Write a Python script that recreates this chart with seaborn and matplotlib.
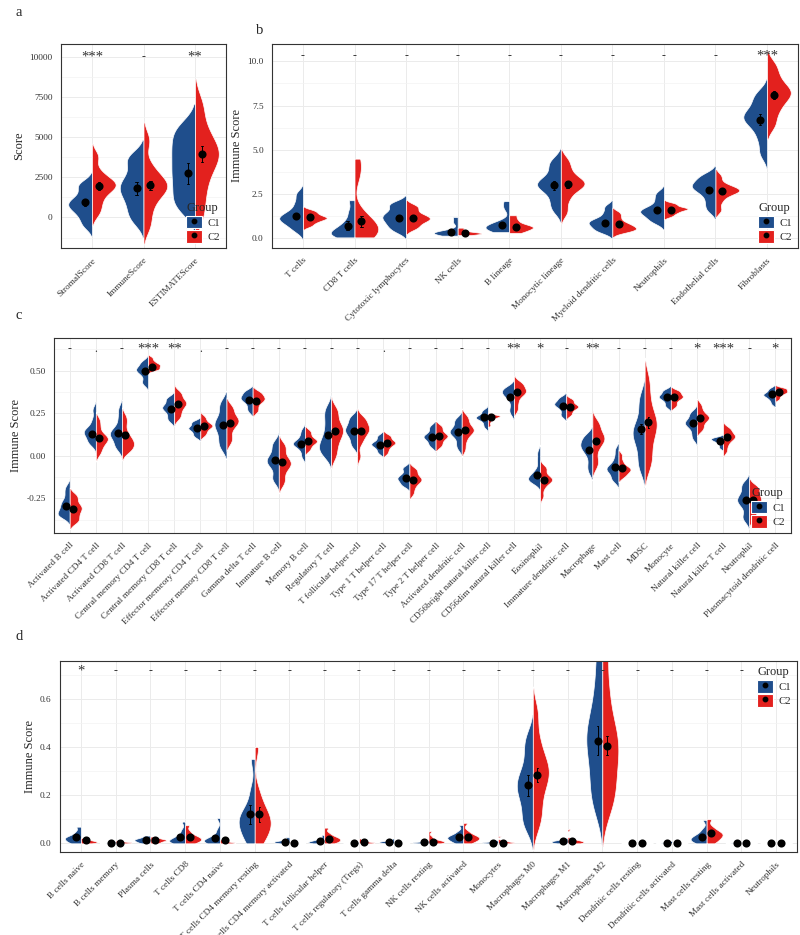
import matplotlib
matplotlib.use("Agg")
import matplotlib.pyplot as plt
import pandas as pd
import seaborn as sns
from matplotlib.patches import Patch
from matplotlib.lines import Line2D
from matplotlib.legend_handler import HandlerTuple
from matplotlib.ticker import AutoMinorLocator, FormatStrFormatter

BLUE = "#1F4E8C"
RED = "#E3211E"

# ---------------- panel a : ESTIMATE ----------------
a_cats = ["StromalScore", "ImmuneScore", "ESTIMATEScore"]
a_c1 = [[-500, 0, 400, 650, 850, 1050, 1350, 1850, 2150],
        [-200, 400, 1000, 1500, 1850, 2200, 2700, 3500, 3800],
        [500, 1100, 1800, 2500, 3100, 3800, 4400, 5100, 5700]]
a_c2 = [[300, 900, 1450, 1800, 2000, 2150, 2350, 2850, 3800],
        [-500, 500, 1300, 1700, 1950, 2150, 2500, 3200, 4800],
        [100, 1400, 2500, 3300, 3800, 4200, 4700, 5600, 7000]]
a_m1 = [950, 1820, 2750]
a_e1 = [220, 400, 650]
a_m2 = [1950, 2000, 3950]
a_e2 = [230, 300, 500]
a_sig = ["***", "-", "**"]
a_trim = []

# ---------------- panel b : MCP-counter ----------------
b_cats = ["T cells", "CD8 T cells", "Cytotoxic lymphocytes", "NK cells", "B lineage",
          "Monocytic lineage", "Myeloid dendritic cells", "Neutrophils",
          "Endothelial cells", "Fibroblasts"]
b_c1 = [[0.45, 0.75, 0.95, 1.1, 1.2, 1.35, 1.6, 2.0, 2.5],
        [0.05, 0.15, 0.25, 0.35, 0.5, 0.7, 1.0, 1.5, 2.15],
        [0.4, 0.65, 0.85, 1.05, 1.2, 1.35, 1.55, 1.85, 2.0],
        [0.15, 0.22, 0.27, 0.3, 0.33, 0.37, 0.45, 0.9, 1.2],
        [0.35, 0.45, 0.55, 0.62, 0.7, 0.8, 0.95, 1.7, 2.1],
        [1.6, 2.1, 2.6, 2.9, 3.05, 3.2, 3.5, 4.0, 4.4],
        [0.35, 0.5, 0.65, 0.8, 0.9, 1.0, 1.15, 1.45, 1.8],
        [0.9, 1.1, 1.3, 1.45, 1.55, 1.65, 1.85, 2.2, 2.55],
        [1.6, 2.0, 2.4, 2.7, 2.85, 3.0, 3.15, 3.4, 3.6],
        [4.8, 5.6, 6.2, 6.6, 6.8, 7.0, 7.3, 7.8, 8.2]]
b_c2 = [[0.7, 0.88, 1.0, 1.1, 1.15, 1.22, 1.32, 1.45, 1.58],
        [0.05, 0.2, 0.35, 0.5, 0.7, 0.95, 1.4, 3.6, 4.5],
        [0.55, 0.75, 0.95, 1.05, 1.15, 1.25, 1.4, 1.65, 1.85],
        [0.18, 0.22, 0.25, 0.28, 0.3, 0.33, 0.38, 0.48, 0.6],
        [0.3, 0.42, 0.52, 0.6, 0.65, 0.72, 0.85, 1.05, 1.3],
        [1.5, 2.2, 2.7, 2.95, 3.1, 3.2, 3.45, 3.9, 4.4],
        [0.35, 0.45, 0.52, 0.6, 0.7, 0.8, 0.95, 1.2, 1.45],
        [1.25, 1.4, 1.5, 1.6, 1.65, 1.7, 1.75, 1.88, 1.98],
        [1.6, 2.1, 2.45, 2.6, 2.7, 2.75, 2.85, 3.05, 3.5],
        [6.4, 7.1, 7.6, 7.95, 8.2, 8.4, 8.7, 9.2, 9.8]]
b_m1 = [1.27, 0.7, 1.12, 0.33, 0.75, 3.0, 0.85, 1.6, 2.75, 6.7]
b_e1 = [0.12, 0.25, 0.12, 0.05, 0.1, 0.25, 0.12, 0.1, 0.15, 0.3]
b_m2 = [1.2, 0.95, 1.15, 0.3, 0.65, 3.05, 0.8, 1.6, 2.65, 8.1]
b_e2 = [0.08, 0.3, 0.12, 0.04, 0.1, 0.2, 0.1, 0.06, 0.12, 0.25]
b_sig = ["-"] * 9 + ["***"]
b_trim = ["CD8 T cells", "NK cells", "B lineage"]

# ---------------- panel c : ssGSEA ----------------
c_cats = ["Activated B cell", "Activated CD4 T cell", "Activated CD8 T cell",
          "Central memory CD4 T cell", "Central memory CD8 T cell",
          "Effector memeory CD4 T cell", "Effector memory CD8 T cell",
          "Gamma delta T cell", "Immature B cell", "Memory B cell",
          "Regulatory T cell", "T follicular helper cell", "Type 1 T helper cell",
          "Type 17 T helper cell", "Type 2 T helper cell", "Activated dendritic cell",
          "CD56bright natural killer cell", "CD56dim natural killer cell",
          "Eosinophil", "Immature dendritic cell", "Macrophage", "Mast cell", "MDSC",
          "Monocyte", "Natural killer cell", "Natural killer T cell", "Neutrophil",
          "Plasmacytoid dendritic cell"]
c_c1 = [[-0.355, -0.35, -0.34, -0.32, -0.30, -0.28, -0.26, -0.22, -0.185],
        [0.07, 0.085, 0.11, 0.13, 0.14, 0.15, 0.17, 0.21, 0.27],
        [0.045, 0.065, 0.1, 0.12, 0.13, 0.145, 0.17, 0.22, 0.275],
        [0.42, 0.44, 0.47, 0.49, 0.5, 0.51, 0.52, 0.54, 0.555],
        [0.205, 0.225, 0.25, 0.27, 0.28, 0.29, 0.305, 0.33, 0.34],
        [0.11, 0.125, 0.14, 0.155, 0.16, 0.168, 0.18, 0.195, 0.202],
        [0.045, 0.08, 0.12, 0.16, 0.18, 0.2, 0.23, 0.28, 0.315],
        [0.261, 0.285, 0.31, 0.325, 0.335, 0.345, 0.355, 0.372, 0.382],
        [-0.147, -0.12, -0.07, -0.045, -0.03, -0.015, 0.01, 0.05, 0.078],
        [-0.005, 0.03, 0.055, 0.065, 0.072, 0.08, 0.095, 0.12, 0.15],
        [0.0, 0.025, 0.05, 0.07, 0.1, 0.14, 0.19, 0.24, 0.28],
        [0.055, 0.085, 0.115, 0.135, 0.15, 0.165, 0.185, 0.21, 0.232],
        [0.015, 0.032, 0.05, 0.06, 0.068, 0.075, 0.085, 0.105, 0.12],
        [-0.178, -0.165, -0.15, -0.138, -0.13, -0.12, -0.105, -0.08, -0.067],
        [0.054, 0.072, 0.09, 0.105, 0.112, 0.12, 0.135, 0.158, 0.176],
        [0.044, 0.075, 0.11, 0.13, 0.14, 0.15, 0.17, 0.2, 0.216],
        [0.169, 0.19, 0.21, 0.218, 0.224, 0.23, 0.238, 0.255, 0.268],
        [0.25, 0.28, 0.32, 0.345, 0.36, 0.37, 0.38, 0.395, 0.403],
        [-0.156, -0.15, -0.14, -0.13, -0.12, -0.105, -0.08, -0.03, 0.019],
        [0.231, 0.25, 0.275, 0.29, 0.3, 0.307, 0.315, 0.333, 0.343],
        [-0.092, -0.05, 0.0, 0.03, 0.05, 0.063, 0.08, 0.105, 0.12],
        [-0.145, -0.13, -0.1, -0.085, -0.075, -0.065, -0.045, -0.01, 0.035],
        [-0.078, -0.02, 0.05, 0.1, 0.13, 0.16, 0.2, 0.28, 0.35],
        [0.287, 0.305, 0.325, 0.337, 0.345, 0.352, 0.362, 0.378, 0.386],
        [0.1, 0.13, 0.16, 0.18, 0.19, 0.2, 0.215, 0.24, 0.257],
        [0.045, 0.06, 0.075, 0.085, 0.09, 0.095, 0.1, 0.105, 0.108],
        [-0.375, -0.35, -0.3, -0.275, -0.26, -0.245, -0.22, -0.18, -0.163],
        [0.305, 0.325, 0.34, 0.35, 0.357, 0.363, 0.37, 0.385, 0.396]]
c_c2 = [[-0.39, -0.375, -0.35, -0.33, -0.31, -0.30, -0.28, -0.25, -0.23],
        [0.013, 0.045, 0.07, 0.09, 0.10, 0.11, 0.13, 0.17, 0.21],
        [0.025, 0.04, 0.06, 0.075, 0.09, 0.11, 0.14, 0.19, 0.23],
        [0.504, 0.507, 0.515, 0.525, 0.53, 0.537, 0.545, 0.558, 0.576],
        [0.22, 0.245, 0.27, 0.29, 0.305, 0.315, 0.33, 0.355, 0.375],
        [0.12, 0.138, 0.155, 0.168, 0.175, 0.182, 0.192, 0.21, 0.23],
        [0.08, 0.115, 0.16, 0.185, 0.2, 0.215, 0.23, 0.265, 0.29],
        [0.258, 0.28, 0.305, 0.32, 0.33, 0.34, 0.35, 0.365, 0.377],
        [-0.165, -0.13, -0.085, -0.06, -0.045, -0.03, -0.005, 0.04, 0.065],
        [0.032, 0.052, 0.07, 0.08, 0.088, 0.095, 0.11, 0.13, 0.148],
        [-0.005, 0.045, 0.09, 0.12, 0.145, 0.165, 0.19, 0.24, 0.275],
        [-0.002, 0.075, 0.11, 0.135, 0.15, 0.165, 0.18, 0.21, 0.222],
        [0.015, 0.037, 0.055, 0.068, 0.075, 0.082, 0.092, 0.11, 0.12],
        [-0.222, -0.19, -0.165, -0.15, -0.14, -0.13, -0.115, -0.09, -0.078],
        [0.054, 0.072, 0.092, 0.108, 0.115, 0.123, 0.138, 0.16, 0.176],
        [0.038, 0.085, 0.12, 0.14, 0.15, 0.16, 0.18, 0.21, 0.232],
        [0.18, 0.2, 0.215, 0.222, 0.228, 0.232, 0.236, 0.238, 0.235],
        [0.27, 0.31, 0.345, 0.365, 0.375, 0.385, 0.4, 0.42, 0.43],
        [-0.237, -0.19, -0.16, -0.148, -0.14, -0.13, -0.115, -0.08, -0.068],
        [0.238, 0.255, 0.272, 0.282, 0.288, 0.295, 0.305, 0.322, 0.332],
        [-0.06, -0.02, 0.04, 0.075, 0.095, 0.11, 0.13, 0.17, 0.198],
        [-0.125, -0.11, -0.095, -0.085, -0.078, -0.07, -0.055, -0.03, 0.005],
        [-0.06, 0.0, 0.08, 0.14, 0.18, 0.21, 0.26, 0.35, 0.45],
        [0.288, 0.305, 0.325, 0.337, 0.345, 0.352, 0.362, 0.376, 0.382],
        [0.15, 0.17, 0.195, 0.212, 0.222, 0.232, 0.245, 0.27, 0.3],
        [0.027, 0.06, 0.085, 0.1, 0.11, 0.12, 0.13, 0.15, 0.163],
        [-0.365, -0.34, -0.3, -0.275, -0.26, -0.245, -0.22, -0.19, -0.185],
        [0.333, 0.35, 0.362, 0.37, 0.375, 0.38, 0.388, 0.396, 0.397]]
c_m1 = [-0.293, 0.13, 0.135, 0.495, 0.275, 0.16, 0.18, 0.325, -0.025, 0.07,
        0.12, 0.145, 0.06, -0.13, 0.11, 0.14, 0.225, 0.345, -0.115, 0.29,
        0.035, -0.065, 0.156, 0.345, 0.19, 0.085, -0.26, 0.36]
c_m2 = [-0.312, 0.105, 0.12, 0.52, 0.305, 0.175, 0.19, 0.32, -0.04, 0.085,
        0.145, 0.145, 0.075, -0.14, 0.115, 0.15, 0.225, 0.375, -0.14, 0.285,
        0.085, -0.075, 0.195, 0.345, 0.22, 0.11, -0.26, 0.375]
c_e1 = [0.01] * 20 + [0.018, 0.01, 0.03, 0.008, 0.012, 0.008, 0.01, 0.006]
c_e2 = [0.01] * 20 + [0.018, 0.01, 0.03, 0.008, 0.012, 0.008, 0.01, 0.006]
c_sig = ["-", ".", "-", "***", "**", ".", "-", "-", "-", "-", "-", "-", ".", "-",
         "-", "-", "-", "**", "*", "-", "**", "-", "-", "-", "*", "***", "-", "*"]
c_trim = []

# ---------------- panel d : CIBERSORT ----------------
d_cats = ["B cells naive", "B cells memory", "Plasma cells", "T cells CD8",
          "T cells CD4 naive", "T cells CD4 memory resting",
          "T cells CD4 memory activated", "T cells follicular helper",
          "T cells regulatory (Tregs)", "T cells gamma delta", "NK cells resting",
          "NK cells activated", "Monocytes", "Macrophages M0", "Macrophages M1",
          "Macrophages M2", "Dendritic cells resting", "Dendritic cells activated",
          "Mast cells resting", "Mast cells activated", "Neutrophils"]
d_c1 = [[0.0, 0.005, 0.012, 0.018, 0.022, 0.027, 0.034, 0.048, 0.069],
        [0, 0.0005, 0.001, 0.0015, 0.002, 0.0025, 0.003, 0.005, 0.008],
        [0, 0.004, 0.008, 0.011, 0.014, 0.017, 0.02, 0.025, 0.032],
        [0, 0.004, 0.008, 0.012, 0.017, 0.024, 0.035, 0.055, 0.09],
        [0, 0.003, 0.007, 0.011, 0.015, 0.02, 0.03, 0.055, 0.105],
        [0, 0.03, 0.06, 0.085, 0.1, 0.12, 0.15, 0.22, 0.35],
        [0, 0.002, 0.004, 0.006, 0.007, 0.009, 0.012, 0.017, 0.025],
        [0, 0.002, 0.004, 0.006, 0.008, 0.011, 0.015, 0.022, 0.035],
        [0, 0, 0, 0.0005, 0.001, 0.0015, 0.002, 0.003, 0.005],
        [0, 0.002, 0.004, 0.005, 0.006, 0.007, 0.009, 0.012, 0.02],
        [0, 0.001, 0.002, 0.003, 0.004, 0.005, 0.006, 0.008, 0.012],
        [0, 0.008, 0.015, 0.021, 0.025, 0.03, 0.037, 0.05, 0.076],
        [0, 0.001, 0.002, 0.003, 0.004, 0.005, 0.006, 0.008, 0.012],
        [0.07, 0.11, 0.17, 0.21, 0.24, 0.27, 0.31, 0.38, 0.44],
        [0, 0.002, 0.004, 0.006, 0.008, 0.01, 0.012, 0.016, 0.022],
        [0.15, 0.22, 0.3, 0.38, 0.43, 0.48, 0.55, 0.66, 0.8],
        [0, 0, 0, 0, 0.0005, 0.001, 0.001, 0.0015, 0.002],
        [0, 0.0005, 0.001, 0.0015, 0.002, 0.003, 0.004, 0.006, 0.01],
        [0, 0.006, 0.012, 0.018, 0.024, 0.03, 0.04, 0.058, 0.097],
        [0, 0.0005, 0.001, 0.0015, 0.002, 0.0025, 0.003, 0.004, 0.006],
        [0, 0, 0, 0, 0, 0.0002, 0.0003, 0.0005, 0.001]]
d_c2 = [[0.0, 0.002, 0.004, 0.006, 0.008, 0.01, 0.013, 0.017, 0.022],
        [0, 0.001, 0.002, 0.003, 0.004, 0.005, 0.006, 0.008, 0.012],
        [0, 0.004, 0.008, 0.011, 0.013, 0.015, 0.018, 0.022, 0.028],
        [0, 0.006, 0.012, 0.017, 0.022, 0.027, 0.035, 0.05, 0.075],
        [0, 0.001, 0.002, 0.003, 0.004, 0.006, 0.008, 0.011, 0.016],
        [0, 0.035, 0.06, 0.08, 0.1, 0.12, 0.15, 0.21, 0.4],
        [0, 0, 0, 0.0005, 0.001, 0.0015, 0.002, 0.003, 0.004],
        [0, 0.005, 0.01, 0.015, 0.019, 0.024, 0.03, 0.042, 0.065],
        [0, 0.001, 0.002, 0.003, 0.004, 0.006, 0.008, 0.012, 0.02],
        [0, 0, 0, 0.0005, 0.001, 0.0012, 0.0015, 0.002, 0.003],
        [0, 0.002, 0.004, 0.006, 0.008, 0.011, 0.016, 0.028, 0.05],
        [0, 0.008, 0.015, 0.02, 0.024, 0.029, 0.036, 0.05, 0.085],
        [0, 0.001, 0.002, 0.003, 0.004, 0.005, 0.007, 0.012, 0.03],
        [0.08, 0.14, 0.21, 0.26, 0.29, 0.32, 0.36, 0.43, 0.54],
        [0, 0.002, 0.003, 0.005, 0.006, 0.008, 0.01, 0.014, 0.06],
        [0.15, 0.21, 0.28, 0.35, 0.4, 0.45, 0.52, 0.64, 0.8],
        [0, 0, 0, 0, 0, 0.0005, 0.0005, 0.001, 0.001],
        [0, 0, 0, 0, 0.0005, 0.0005, 0.001, 0.001, 0.002],
        [0, 0.012, 0.022, 0.03, 0.037, 0.044, 0.052, 0.068, 0.1],
        [0, 0, 0, 0, 0.0005, 0.0005, 0.001, 0.001, 0.002],
        [0, 0, 0, 0, 0, 0.0002, 0.0003, 0.0005, 0.001]]
d_m1 = [0.025, 0.002, 0.015, 0.027, 0.022, 0.12, 0.007, 0.01, 0.001, 0.007, 0.005,
        0.025, 0.003, 0.24, 0.01, 0.425, 0.0, 0.001, 0.027, 0.002, 0.0]
d_m2 = [0.012, 0.003, 0.014, 0.025, 0.012, 0.12, 0.001, 0.018, 0.005, 0.001, 0.007,
        0.025, 0.003, 0.283, 0.008, 0.405, 0.0, 0.0, 0.041, 0.0, 0.0]
d_e1 = [0.006, 0.001, 0.004, 0.008, 0.006, 0.04, 0.002, 0.003, 0.001, 0.002, 0.001,
        0.006, 0.001, 0.045, 0.003, 0.06, 0.0, 0.0, 0.006, 0.001, 0.0]
d_e2 = [0.004, 0.001, 0.004, 0.007, 0.003, 0.03, 0.0, 0.005, 0.002, 0.0, 0.002,
        0.006, 0.001, 0.03, 0.003, 0.04, 0.0, 0.0, 0.008, 0.0, 0.0]
d_sig = ["*"] + ["-"] * 19 + [""]
d_trim = [c for c in d_cats if c not in ("Macrophages M0", "Macrophages M2")]


def long_df(cats, c1, c2):
    rows = []
    for cat, v1, v2 in zip(cats, c1, c2):
        rows += [(cat, "C1", v) for v in v1]
        rows += [(cat, "C2", v) for v in v2]
    return pd.DataFrame(rows, columns=["cell", "Group", "value"])


def summary_df(cats, m1, e1, m2, e2):
    rows = []
    for cat, a, ea, b, eb in zip(cats, m1, e1, m2, e2):
        rows += [(cat, "C1", a - ea), (cat, "C1", a + ea),
                 (cat, "C2", b - eb), (cat, "C2", b + eb)]
    return pd.DataFrame(rows, columns=["cell", "Group", "value"])


def draw_panel(ax, cats, c1, c2, m1, e1, m2, e2, sig, sig_y, ylim, yticks, fmt,
               ylabel, leg_loc, trim):
    df = long_df(cats, c1, c2)
    # trimmed violins for values piled up at a bound, tapered tails otherwise
    for sub, cut in [(df[df["cell"].isin(trim)], 0), (df[~df["cell"].isin(trim)], 2)]:
        if len(sub) == 0:
            continue
        sns.violinplot(data=sub, x="cell", y="value", hue="Group",
                       order=cats, hue_order=["C1", "C2"], split=True, inner=None,
                       cut=cut, density_norm="width", bw_adjust=0.6, width=0.92,
                       gridsize=200, palette={"C1": BLUE, "C2": RED}, saturation=1,
                       linecolor="white", linewidth=0.5, legend=False, ax=ax)
    sns.pointplot(data=summary_df(cats, m1, e1, m2, e2), x="cell", y="value",
                  hue="Group", order=cats, hue_order=["C1", "C2"],
                  palette=["black", "black"], dodge=0.27, linestyle="none",
                  marker="o", markersize=3.8, estimator="mean",
                  errorbar=lambda v: (v.min(), v.max()), capsize=0.05,
                  err_kws={"linewidth": 0.7}, legend=False, ax=ax)
    for i, s in enumerate(sig):
        if s:
            ax.text(i, sig_y, s, ha="center", va="center",
                    fontsize=10.5 if "*" in s else 8.5, color="#333333")
    ax.set_ylim(*ylim)
    ax.set_xlim(-0.6, len(cats) - 0.4)
    ax.set_yticks(yticks)
    ax.yaxis.set_major_formatter(FormatStrFormatter(fmt))
    ax.yaxis.set_minor_locator(AutoMinorLocator(2))
    ax.set_axisbelow(True)
    ax.grid(True, which="major", color="#EBEBEB", linewidth=0.7)
    ax.grid(True, which="minor", axis="y", color="#F3F3F3", linewidth=0.5)
    for sp in ax.spines.values():
        sp.set_color("#333333")
        sp.set_linewidth(0.8)
    ax.tick_params(axis="both", which="major", length=2.5, width=0.6,
                   color="#333333", labelsize=6.7, labelcolor="#333333")
    ax.tick_params(axis="y", which="minor", length=0)
    ax.set_xticks(range(len(cats)))
    ax.set_xticklabels(cats, rotation=45, ha="right", rotation_mode="anchor")
    ax.set_xlabel("")
    ax.set_ylabel(ylabel, fontsize=9, labelpad=3)
    handles = [(Patch(facecolor=BLUE, edgecolor="white", linewidth=0.8),
                Line2D([], [], marker="o", color="black", linestyle="none",
                       markersize=3.2)),
               (Patch(facecolor=RED, edgecolor="white", linewidth=0.8),
                Line2D([], [], marker="o", color="black", linestyle="none",
                       markersize=3.2))]
    leg = ax.legend(handles, ["C1", "C2"], title="Group",
                    handler_map={tuple: HandlerTuple(ndivide=1)}, loc=leg_loc,
                    frameon=False, fontsize=7.8, title_fontsize=9,
                    handlelength=1.5, handleheight=1.45, labelspacing=0.12,
                    handletextpad=0.5, borderpad=0.2, borderaxespad=0.3)
    leg._legend_box.align = "left"


sns.set_style("white")
plt.rcParams["font.family"] = ["Liberation Serif", "DejaVu Serif"]
plt.rcParams["axes.unicode_minus"] = False

fig = plt.figure(figsize=(8, 9.35), dpi=100)
W, H = 800.0, 935.0


def add_axes(x0, y0, x1, y1):
    return fig.add_axes([x0 / W, 1 - y1 / H, (x1 - x0) / W, (y1 - y0) / H])


ax_a = add_axes(61, 44, 226, 248)
ax_b = add_axes(272, 44, 798, 248)
ax_c = add_axes(54, 338, 791, 533)
ax_d = add_axes(60, 661, 797, 852)

draw_panel(ax_a, a_cats, a_c1, a_c2, a_m1, a_e1, a_m2, a_e2, a_sig, 10000,
           (-1900, 10800), [0, 2500, 5000, 7500, 10000], "%d", "Score",
           "lower right", a_trim)
draw_panel(ax_b, b_cats, b_c1, b_c2, b_m1, b_e1, b_m2, b_e2, b_sig, 10.3,
           (-0.55, 10.98), [0, 2.5, 5.0, 7.5, 10.0], "%.1f", "Immune Score",
           "lower right", b_trim)
draw_panel(ax_c, c_cats, c_c1, c_c2, c_m1, c_e1, c_m2, c_e2, c_sig, 0.625,
           (-0.454, 0.691), [-0.25, 0.0, 0.25, 0.5], "%.2f", "Immune Score",
           "lower right", c_trim)
draw_panel(ax_d, d_cats, d_c1, d_c2, d_m1, d_e1, d_m2, d_e2, d_sig, 0.715,
           (-0.036, 0.756), [0.0, 0.2, 0.4, 0.6], "%.1f", "Immune Score",
           "upper right", d_trim)

for letter, x, y in [("a", 15, 13), ("b", 256, 30), ("c", 15, 316), ("d", 15, 637)]:
    fig.text(x / W, 1 - y / H, letter, fontsize=10.5, va="center", ha="left")

fig.savefig("out.png", dpi=100)
